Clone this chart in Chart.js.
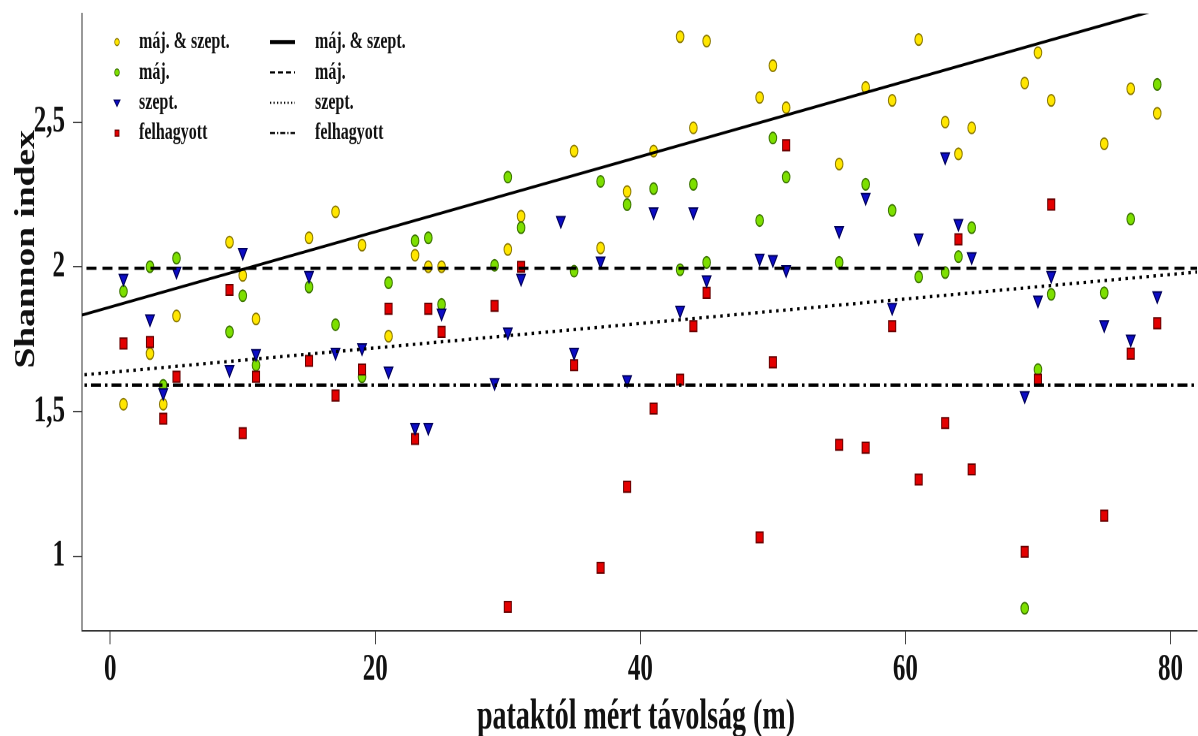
<!DOCTYPE html>
<html>
<head>
<meta charset="utf-8">
<title>Shannon index</title>
<script src="https://cdn.jsdelivr.net/npm/chart.js@4/dist/chart.umd.min.js"></script>
<style>
  html { margin: 0; padding: 0; background: #fff; overflow: hidden; }
  body { margin: 0; padding: 0; width: 1198px; height: 736px; background: #fff; }
  /* the plot is laid out flat and stretched vertically, like the printed figure;
     a few extra px on the right so the axis runs to the window edge */
  #wrap { width: 1203px; height: 490px; transform-origin: 0 0; transform: scale(1, 1.502); }
</style>
</head>
<body>
<div id="wrap"><canvas id="chart"></canvas></div>
<script>
// distance from the stream (m)
const distance = [1, 3, 4, 5, 9, 10, 11, 15, 17, 19, 21, 23, 24, 25, 29, 30, 31, 34, 35, 37,
                  39, 41, 43, 44, 45, 49, 50, 51, 55, 57, 59, 61, 63, 64, 65, 69, 70, 71, 75, 77, 79];

// Shannon index per plot, null where the plot was not sampled
const majSzept = [1.525, 1.70, 1.525, 1.83, 2.085, 1.97, 1.82, 2.10, 2.19, 2.075, 1.76, 2.04, 2.00, 2.00, null, 2.06, 2.175, null, 2.40, 2.065,
                  2.26, 2.40, 2.795, 2.48, 2.78, 2.585, 2.695, 2.55, 2.355, 2.62, 2.575, 2.785, 2.50, 2.39, 2.48, 2.635, 2.74, 2.575, 2.425, 2.615, 2.53];
const maj = [1.915, 2.00, 1.59, 2.03, 1.775, 1.90, 1.66, 1.93, 1.80, 1.62, 1.945, 2.09, 2.10, 1.87, 2.005, 2.31, 2.135, null, 1.985, 2.295,
             2.215, 2.27, 1.99, 2.285, 2.015, 2.16, 2.445, 2.31, 2.015, 2.285, 2.195, 1.965, 1.98, 2.035, 2.135, 0.82, 1.645, 1.905, 1.91, 2.165, 2.63];
const szept = [1.96, 1.82, 1.565, 1.985, 1.645, 2.05, 1.70, 1.97, 1.705, 1.72, 1.64, 1.445, 1.445, 1.84, 1.60, 1.775, 1.96, 2.16, 1.705, 2.02,
               1.61, 2.19, 1.85, 2.19, 1.955, 2.03, 2.025, 1.99, 2.125, 2.24, 1.86, 2.10, 2.38, 2.15, 2.035, 1.555, 1.885, 1.97, 1.80, 1.75, 1.90];
const felhagyott = [1.735, 1.74, 1.475, 1.62, 1.92, 1.425, 1.62, 1.675, 1.555, 1.645, 1.855, 1.405, 1.855, 1.775, 1.865, 0.825, 2.00, null, 1.66, 0.96,
                    1.24, 1.51, 1.61, 1.795, 1.91, 1.065, 1.67, 2.42, 1.385, 1.375, 1.795, 1.265, 1.46, 2.095, 1.30, 1.015, 1.61, 2.215, 1.14, 1.70, 1.805];

const seriesLabels = ['máj. & szept.', 'máj.', 'szept.', 'felhagyott'];

// linear fits: index = intercept + slope * distance
const fitIntercept = [1.861, 1.995, 1.635, 1.591];
const fitSlope = [0.013, 0, 0.00423, 0];
const fitRange = [-3, 83];

const xTicks = [0, 20, 40, 60, 80];
const yTicks = [1, 1.5, 2, 2.5];

const serif = "'Liberation Serif', 'Times New Roman', serif";

function points(values) {
  return distance.map((x, i) => ({ x: x, y: values[i] })).filter(p => p.y !== null);
}
function fitLine(k) {
  return fitRange.map(x => ({ x: x, y: fitIntercept[k] + fitSlope[k] * x }));
}

const markerStyles = [
  { pointStyle: 'circle', pointRadius: 3.8, pointBackgroundColor: '#ffe600', pointBorderColor: '#8a7800' },
  { pointStyle: 'circle', pointRadius: 3.8, pointBackgroundColor: '#7ddf00', pointBorderColor: '#3b7400' },
  { pointStyle: 'triangle', pointRotation: 180, pointRadius: 5, pointBackgroundColor: '#0c0cc4', pointBorderColor: '#00005a' },
  { pointStyle: 'rect', pointRadius: 5, pointBackgroundColor: '#e30000', pointBorderColor: '#660000' }
];
const lineStyles = [
  { borderWidth: 2, borderDash: [] },
  { borderWidth: 2.2, borderDash: [10, 6] },
  { borderWidth: 2.2, borderDash: [2.5, 4.5] },
  { borderWidth: 2.2, borderDash: [10, 4, 2.5, 4] }
];

const datasets = [];
[majSzept, maj, szept, felhagyott].forEach((values, k) => {
  datasets.push(Object.assign({
    label: seriesLabels[k],
    data: points(values),
    showLine: false,
    pointBorderWidth: 1,
    order: [4, 3, 1, 2][k]
  }, markerStyles[k]));
});
seriesLabels.forEach((label, k) => {
  datasets.push(Object.assign({
    label: label,
    data: fitLine(k),
    showLine: true,
    pointRadius: 0,
    borderColor: '#000',
    borderCapStyle: 'butt',
    fill: false,
    order: 0
  }, lineStyles[k]));
});

function drawMarker(ctx, d, x, y) {
  ctx.fillStyle = d.pointBackgroundColor;
  ctx.strokeStyle = d.pointBorderColor;
  ctx.lineWidth = 0.8;
  ctx.beginPath();
  if (d.pointStyle === 'circle') {
    ctx.arc(x, y, 2.3, 0, Math.PI * 2);
  } else if (d.pointStyle === 'triangle') {
    ctx.moveTo(x - 3, y - 1.8);
    ctx.lineTo(x + 3, y - 1.8);
    ctx.lineTo(x, y + 2.4);
    ctx.closePath();
  } else {
    ctx.rect(x - 2, y - 2, 4, 4);
  }
  ctx.fill();
  ctx.stroke();
}

// two-column legend (symbols, fitted lines) and the axis titles
const annotations = {
  id: 'annotations',
  afterDraw(chart) {
    const ctx = chart.ctx;
    const ds = chart.data.datasets;
    const marks = ds.filter(d => !d.showLine);
    const fits = ds.filter(d => d.showLine);
    ctx.save();
    ctx.font = 'bold 16px ' + serif;
    ctx.textBaseline = 'middle';
    ctx.textAlign = 'left';
    marks.forEach((d, i) => {
      const y = 28 + i * 20.2;
      drawMarker(ctx, d, 117, y);
      ctx.fillStyle = '#111';
      ctx.fillText(d.label, 139, y);
    });
    fits.forEach((d, i) => {
      const y = 28 + i * 20.2;
      ctx.strokeStyle = '#000';
      ctx.lineWidth = i === 0 ? 2.7 : 1.4;
      ctx.setLineDash(d.borderDash.map(v => v * 0.5));
      ctx.beginPath();
      ctx.moveTo(270, y);
      ctx.lineTo(295, y);
      ctx.stroke();
      ctx.setLineDash([]);
      ctx.fillStyle = '#111';
      ctx.fillText(d.label, 315, y);
    });

    ctx.fillStyle = '#111';
    ctx.textAlign = 'center';
    ctx.font = 'bold 28px ' + serif;
    ctx.fillText('pataktól mért távolság (m)', 636, 478);

    // the printed y title is set in a tall, condensed face
    ctx.translate(27, 166);
    ctx.rotate(-Math.PI / 2);
    ctx.scale(0.89, 1);
    ctx.font = 'bold 28px ' + serif;
    ctx.fillText('Shannon index', 0, 0);
    ctx.restore();
  }
};

new Chart(document.getElementById('chart'), {
  type: 'scatter',
  data: { datasets: datasets },
  options: {
    responsive: true,
    maintainAspectRatio: false,
    animation: false,
    devicePixelRatio: 2,
    layout: { padding: { top: 9, right: 0, left: 0, bottom: 0 } },
    plugins: { legend: { display: false }, tooltip: { enabled: false } },
    scales: {
      x: {
        type: 'linear',
        min: -2.13,
        max: 82,
        afterBuildTicks: scale => { scale.ticks = xTicks.map(v => ({ value: v })); },
        afterFit: scale => { scale.height = 70; scale.paddingLeft = 0; scale.paddingRight = 0; },
        grid: { drawOnChartArea: false, drawTicks: true, tickLength: 9, color: '#444' },
        border: { display: true, color: '#333', width: 1 },
        ticks: { font: { family: serif, size: 25, weight: 'bold' }, color: '#111', padding: 2, maxRotation: 0 }
      },
      y: {
        type: 'linear',
        min: 0.742,
        max: 2.875,
        afterBuildTicks: scale => { scale.ticks = yTicks.map(v => ({ value: v })); },
        afterFit: scale => { scale.width = 82; scale.paddingTop = 0; scale.paddingBottom = 0; },
        grid: { drawOnChartArea: false, drawTicks: true, tickLength: 9, color: '#444' },
        border: { display: true, color: '#333', width: 1 },
        ticks: {
          font: { family: serif, size: 25, weight: 'bold' },
          color: '#111',
          padding: 8,
          callback: v => String(v).replace('.', ',')
        }
      }
    }
  },
  plugins: [annotations]
});
</script>
</body>
</html>
